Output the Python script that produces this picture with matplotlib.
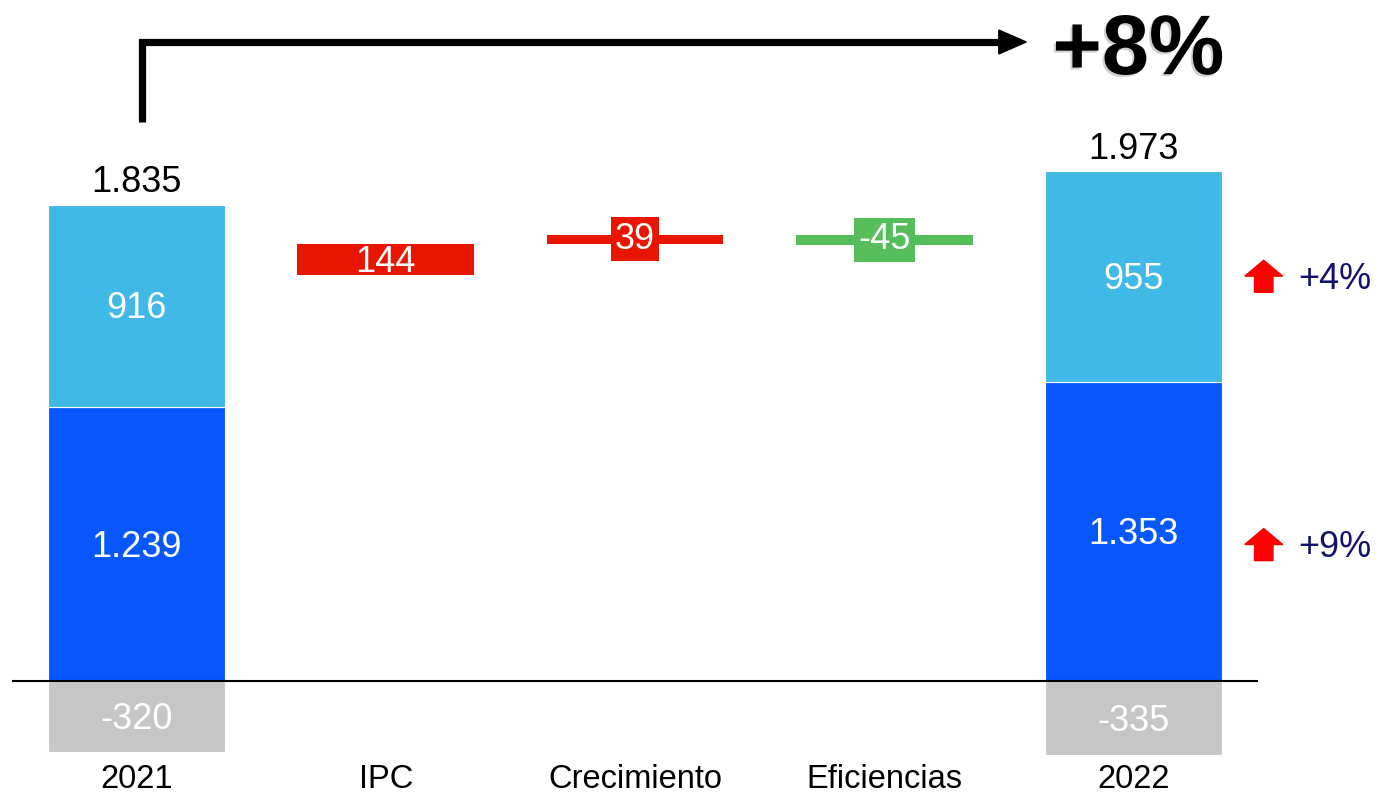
import matplotlib
matplotlib.use("Agg")
import matplotlib.pyplot as plt
from matplotlib import patheffects
from matplotlib.patches import FancyArrow

# data
categories = ["2021", "IPC", "Crecimiento", "Eficiencias", "2022"]
start_parts = [1239, 916]      # dark blue, light blue
start_neg = -320
end_parts = [1353, 955]
end_neg = -335
changes = [144, 39, -45]
part_growth = ["+9%", "+4%"]
total_growth = "+8%"

BLUE = "#0757FC"
LIGHT = "#41B9E6"
GRAY = "#C6C6C6"
RED = "#E81500"
GREEN = "#56BD5B"
NAVY = "#12126B"

plt.rcParams["font.family"] = ["Liberation Sans", "DejaVu Sans"]

W = 0.71
DY = -14  # nudge labels down a few pixels


def fmt(v):
    return f"{v:,}".replace(",", ".")


def draw_stacked(ax, x, parts, neg):
    ax.bar(x, neg, W, color=GRAY, edgecolor="white", linewidth=0.8)
    ax.text(x, neg / 2 + DY, fmt(neg), ha="center", va="center", color="white", fontsize=26)
    bottom = 0
    mids = []
    for v, c in zip(parts, [BLUE, LIGHT]):
        ax.bar(x, v, W, bottom=bottom, color=c, edgecolor="white", linewidth=0.8)
        ax.text(x, bottom + v / 2 + DY, fmt(v), ha="center", va="center", color="white", fontsize=26)
        mids.append(bottom + v / 2)
        bottom += v
    ax.annotate(fmt(sum(parts) + neg), (x, bottom), xytext=(0, 3), textcoords="offset points",
                ha="center", va="bottom", fontsize=26)
    return mids


fig = plt.figure(figsize=(13.79, 7.97), dpi=100)
ax = fig.add_axes([12 / 1379, 0, 1246 / 1379, 1])
ax.set_xlim(-0.5, 4.5)
ax.set_ylim(-525, 3081)
ax.axis("off")

draw_stacked(ax, 0, start_parts, start_neg)

# waterfall steps
level = sum(start_parts) + start_neg
for i, d in enumerate(changes, start=1):
    c = RED if d > 0 else GREEN
    ax.bar(i, d, W, bottom=level, color=c)
    box = dict(facecolor=c, edgecolor="none", boxstyle="square,pad=0.12") if abs(d) < 100 else None
    ax.text(i, level + d / 2 + (DY if box is None else 0), fmt(d), ha="center", va="center",
            color="white", fontsize=26, bbox=box)
    level += d

mids = draw_stacked(ax, len(categories) - 1, end_parts, end_neg)

ax.axhline(0, color="black", linewidth=1.5, zorder=5)

for i, cat in enumerate(categories):
    ax.text(i, -445, cat, ha="center", va="center", fontsize=23.5)

# growth arrows on the right
nudges = [-60, 0]
for label, y, dy in zip(part_growth, mids, nudges):
    yc = y + dy
    ax.add_patch(FancyArrow(4.523, yc - 72, 0, 145, width=0.074, head_width=0.152, head_length=72,
                            length_includes_head=True, color="#FF0000", clip_on=False))
    ax.text(4.66, yc + DY, label, ha="left", va="center", color=NAVY, fontsize=26, clip_on=False)

# bracket arrow + total growth
ax.plot([0.02, 0.02, 3.47], [2529, 2891, 2891], color="black", linewidth=5.2,
        solid_joinstyle="miter", solid_capstyle="butt", clip_on=False)
ax.fill([3.46, 3.57, 3.46], [2945, 2891, 2837], color="black", clip_on=False)
ax.text(4.02, 2845, total_growth, ha="center", va="center", fontsize=61, fontweight="bold",
        path_effects=[patheffects.withSimplePatchShadow(offset=(-1.5, -1.5), shadow_rgbFace="0.55", alpha=0.4)])

fig.savefig("out.png", dpi=100)
